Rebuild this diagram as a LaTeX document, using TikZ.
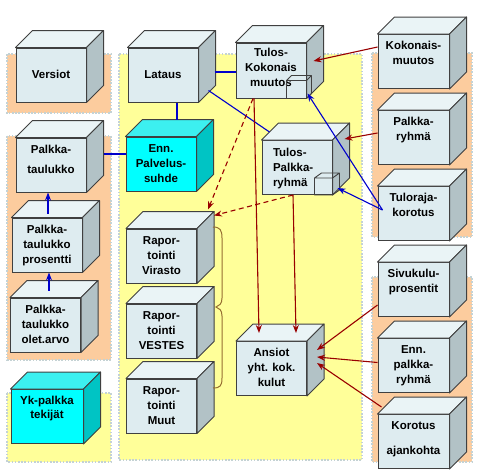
\documentclass[tikz,border=0pt]{standalone}
\usepackage{fontspec}
\setmainfont{Liberation Sans}
\usetikzlibrary{positioning,arrows.meta}

\definecolor{frontface}{RGB}{222,236,240}
\definecolor{topface}{RGB}{234,244,246}
\definecolor{sideface}{RGB}{178,194,198}
\definecolor{cyanfront}{RGB}{0,255,255}
\definecolor{cyantop}{RGB}{60,240,240}
\definecolor{cyanside}{RGB}{0,196,196}
\definecolor{edgegray}{RGB}{64,64,64}
\definecolor{peach}{RGB}{252,204,158}
\definecolor{paleyellow}{RGB}{255,255,153}
\definecolor{dotgray}{RGB}{196,210,212}
\definecolor{linkblue}{RGB}{0,0,204}
\definecolor{linkred}{RGB}{153,0,0}
\definecolor{bracebrown}{RGB}{150,110,50}

% top and side faces of a box node
\newcommand\cubefaces[3]{%
  \filldraw[fill=#2, draw=edgegray, line width=1pt, line join=round]
    (#1.north west) -- ++(17pt,17pt) -- ([shift={(17pt,17pt)}]#1.north east) -- (#1.north east) -- cycle;
  \filldraw[fill=#3, draw=edgegray, line width=1pt, line join=round]
    (#1.north east) -- ++(17pt,17pt) -- ([shift={(17pt,17pt)}]#1.south east) -- (#1.south east) -- cycle;
}
% small box in the lower right corner: node, width, height, depth
\newcommand\innercube[4]{%
  \draw[edgegray, line width=0.9pt, line join=round]
    (#1.south east) rectangle ++(-#2pt,#3pt) -- ++(#4pt,5pt) -- ++(#2pt,0) -- ++(0,-#3pt) -- ++(-#4pt,-5pt)
    ([yshift=#3pt]#1.south east) -- ++(#4pt,5pt);
}

\begin{document}
\begin{tikzpicture}[x=1pt, y=-1pt, >={Stealth[length=8pt,width=6pt]},
    cube/.style={draw=edgegray, fill=frontface, line width=1pt, minimum width=70pt, minimum height=54pt,
      inner sep=0pt, align=center, text height=30pt, text depth=24pt,
      font=\bfseries\fontsize{11.5}{15}\selectfont},
    cyancube/.style={cube, fill=cyanfront},
    three/.style={text height=45pt, text depth=9pt},
    panel/.style={draw=dotgray, line width=2.4pt, dash pattern=on 1.6pt off 1.6pt},
    blueline/.style={linkblue, line width=1.1pt},
    bluearrow/.style={blueline, ->},
    redarrow/.style={linkred, line width=1.1pt, ->},
    dashedarrow/.style={redarrow, dash pattern=on 5pt off 3.5pt}]

  \useasboundingbox (0,0) rectangle (478,471);

  % Background panels
  \filldraw[fill=peach, panel] (7,54) rectangle (111,113);
  \filldraw[fill=peach, panel] (7,136) rectangle (111,360);
  \filldraw[fill=paleyellow, panel] (7,393) rectangle (111,462);
  \filldraw[fill=paleyellow, panel] (119,54) rectangle (362,460);
  \filldraw[fill=peach, panel] (372,53) rectangle (472,237);
  \filldraw[fill=peach, panel] (372,277) rectangle (472,462);

  % Left column
  \node[cube] (ver) at (51,75) {Versiot};
  \node[cube, text height=35pt, text depth=19pt] (ptk) at (51,165) {Palkka-\\[5pt]taulukko};
  \node[cube, three, below=25pt of ptk, xshift=-4pt] (pro) {Palkka-\\taulukko\\prosentti};
  \node[cube, three, below=25pt of pro, xshift=-1.5pt] (ole) {Palkka-\\taulukko\\olet.arvo};
  \node[cyancube, minimum width=72pt, text height=29pt, text depth=25pt] (yk) at (47,416.5) {Yk-palkka\\[-1pt]tekijät};

  % Middle column
  \node[cube] (lat) at (163,75) {Lataus};
  \node[cyancube, three] (pal) at (161,164) {Enn.\\Palvelus-\\suhde};
  \node[cube, three] (rv) at (161.5,256) {Rapor-\\tointi\\Virasto};
  \node[cube, three, below=20pt of rv] (rve) {Rapor-\\tointi\\VESTES};
  \node[cube, three, below=20pt of rve] (rm) {Rapor-\\tointi\\Muut};

  % Results
  \node[cube, minimum height=55pt, text height=43pt, text depth=12pt] (tk) at (271,70.5) {Tulos-\\Kokonais\\muutos};
  \node[cube, align=left, text width=48pt, text height=16pt, text depth=38pt] (tp) at (297,167.5) {Tulos-\\Palkka-\\ryhmä};
  \node[cube, three] (an) at (271.5,368.5) {Ansiot\\yht. kok.\\kulut};

  % Right column
  \node[cube, minimum width=71pt] (km) at (413.5,61.5) {Kokonais-\\muutos};
  \node[cube, minimum width=71pt, below=21pt of km] (pr) {Palkka-\\ryhmä};
  \node[cube, minimum width=71pt, below=21pt of pr] (tr) {Tuloraja-\\korotus};
  \node[cube, minimum width=71pt, below=21pt of tr] (sp) {Sivukulu-\\prosentit};
  \node[cube, three, minimum width=71pt, below=21pt of sp] (ep) {Enn.\\palkka-\\ryhmä};
  \node[cube, minimum width=71pt, text height=40pt, text depth=14pt, below=21pt of ep] (ka) {Korotus\\[10pt]ajankohta};

  \cubefaces{ver}{topface}{sideface}
  \cubefaces{ptk}{topface}{sideface}
  \cubefaces{pro}{topface}{sideface}
  \cubefaces{ole}{topface}{sideface}
  \cubefaces{yk}{cyantop}{cyanside}
  \cubefaces{lat}{topface}{sideface}
  \cubefaces{pal}{cyantop}{cyanside}
  \cubefaces{rv}{topface}{sideface}
  \cubefaces{rve}{topface}{sideface}
  \cubefaces{rm}{topface}{sideface}
  \cubefaces{tk}{topface}{sideface}
  \cubefaces{tp}{topface}{sideface}
  \cubefaces{an}{topface}{sideface}
  \cubefaces{km}{topface}{sideface}
  \cubefaces{pr}{topface}{sideface}
  \cubefaces{tr}{topface}{sideface}
  \cubefaces{sp}{topface}{sideface}
  \cubefaces{ep}{topface}{sideface}
  \cubefaces{ka}{topface}{sideface}
  \innercube{tk}{20}{18}{5}
  \innercube{tp}{18}{17}{7}

  % Plain links
  \path[blueline]
    ([xshift=16pt,yshift=3pt]lat.east) edge ([yshift=-1.5pt]tk.west)
    ([xshift=10pt,yshift=12pt]lat.south east) edge ([xshift=8pt,yshift=8pt]tp.north west)
    ([xshift=14pt]lat.south) edge ([xshift=16pt,yshift=17pt]pal.north)
    ([xshift=17pt,yshift=11pt]ptk.east) edge ([yshift=10pt]pal.west);

  % Blue arrows
  \path[bluearrow]
    ([xshift=1pt,yshift=4pt]pro.north) edge ([xshift=-3pt]ptk.south)
    ([xshift=3.5pt,yshift=7pt]ole.north) edge ([xshift=2pt]pro.south)
    ([xshift=5pt,yshift=3.5pt]tr.west) edge ([xshift=1pt,yshift=5pt]tk.south east)
    ([xshift=5pt,yshift=3.5pt]tr.west) edge ([xshift=5pt,yshift=7pt]tp.south east);

  % Red arrows
  \path[redarrow]
    ([yshift=14.5pt]km.west) edge ([xshift=7pt,yshift=9.5pt]tk.east)
    ([yshift=4.5pt]pr.west) edge ([xshift=12pt,yshift=1pt]tp.north east)
    ([yshift=-15.5pt]sp.west) edge ([xshift=10pt,yshift=18.5pt]an.east)
    ([yshift=3pt]ep.west) edge ([xshift=10pt,yshift=11.5pt]an.east)
    ([xshift=4pt,yshift=7pt]ka.north west) edge ([xshift=10pt,yshift=5.5pt]an.east)
    ([xshift=-17pt]tk.south) edge ([xshift=-12.5pt,yshift=8pt]an.north)
    ([xshift=-4pt]tp.south) edge ([xshift=24.5pt,yshift=8pt]an.north);

  % Dashed arrows
  \path[dashedarrow]
    ([xshift=-18pt]tk.south) edge ([xshift=11pt,yshift=19pt]rv.north east)
    ([xshift=-4pt]tp.south) edge ([xshift=17pt,yshift=13pt]rv.north east);

  % Brace beside the reports
  \draw[bracebrown, line width=1pt] (213,227) .. controls (220,227) and (222,230) .. (222,238) -- (222,298)
    .. controls (222,304) and (219,306) .. (216,307) .. controls (219,308) and (222,310) .. (222,316)
    -- (222,378) .. controls (222,386) and (220,388) .. (213,388);
\end{tikzpicture}
\end{document}
